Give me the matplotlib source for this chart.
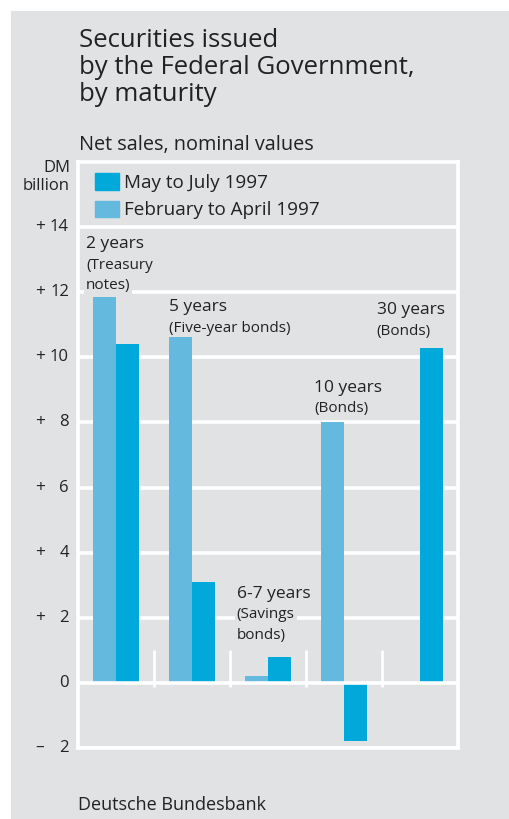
import matplotlib.pyplot as plt
import numpy as np
from matplotlib.patches import Patch

plt.rcParams['font.family'] = ['Open Sans', 'DejaVu Sans']

# data (DM billion, net sales)
maturities = ["2 years", "5 years", "6-7 years", "10 years", "30 years"]
notes = ["(Treasury\nnotes)", "(Five-year bonds)", "(Savings\nbonds)", "(Bonds)", "(Bonds)"]
feb_apr = [11.85, 10.65, 0.2, 8.0, np.nan]
may_jul = [10.4, 3.1, 0.8, -1.8, 10.3]
yticks = [-2, 0, 2, 4, 6, 8, 10, 12, 14]
title_lines = ["Securities issued", "by the Federal Government,", "by maturity"]

# label anchors (x, baseline y) in data units
label_pos = [(0.105, 13.35), (1.197, 11.42), (2.09, 2.62), (3.105, 8.95), (3.93, 11.32)]

dark = '#00a9d9'
light = '#63b9de'
bg = '#e1e2e4'
ink = '#222222'

W, H = 510, 819
fig = plt.figure(figsize=(W / 100, H / 100), dpi=100)
fig.patch.set_facecolor('white')
fig.add_artist(plt.Rectangle((11 / W, 0), 1, 1 - 11 / H, transform=fig.transFigure,
                             facecolor=bg, edgecolor='none', zorder=0))

def fx(px):
    return px / W

def fy(py):
    return 1 - py / H

ax = fig.add_axes([fx(78), fy(748), fx(458) - fx(78), fy(162) - fy(748)])
ax.set_facecolor(bg)
ax.set_xlim(0, 5)
ax.set_ylim(-2, 16)

x = np.arange(len(maturities)) + 0.5
bw = 0.3
ax.bar(x - bw / 2, feb_apr, bw, color=light, zorder=2)
ax.bar(x + bw / 2, may_jul, bw, color=dark, zorder=2)

for y in yticks:
    ax.axhline(y, color='white', lw=2.6, zorder=3 if y == 0 else 1)
ax.vlines(np.arange(1, 5), -0.12, 1.0, color='white', lw=2, zorder=3)

for s in ax.spines.values():
    s.set_color('white')
    s.set_linewidth(2.6)
ax.set_xticks([])
ax.set_yticks([])

# y labels: sign column plus right aligned numbers
trans = ax.get_yaxis_transform()
for y in yticks:
    sign = '+' if y > 0 else ('\u2013' if y < 0 else '')
    ax.text((40 - 78) / 380, y, sign, transform=trans, ha='center', va='center',
            fontsize=12.5, color=ink, clip_on=False)
    ax.text((69 - 78) / 380, y, str(abs(y)), transform=trans, ha='right', va='center',
            fontsize=12, color=ink, clip_on=False)
fig.text(fx(70), fy(177), 'DM\nbillion', ha='right', va='center', fontsize=12,
         color=ink, linespacing=1.1)

# category labels
box = dict(boxstyle='square,pad=0.12', facecolor=bg, edgecolor='none')
for name, note, (lx, ly) in zip(maturities, notes, label_pos):
    ax.text(lx, ly, name, ha='left', va='baseline', fontsize=12.5, color=ink,
            zorder=4, bbox=box)
    for i, line in enumerate(note.split('\n')):
        ax.text(lx, ly - (i + 1) * 0.63, line, ha='left', va='baseline', fontsize=11,
                color=ink, zorder=4, bbox=box)

handles = [Patch(color=dark, label='May to July 1997'),
           Patch(color=light, label='February to April 1997')]
ax.legend(handles=handles, loc='upper left', bbox_to_anchor=(0.0, 1.01), frameon=False,
          fontsize=13.6, handlelength=1.25, handleheight=1.0, handletextpad=0.3,
          labelspacing=0.45, labelcolor=ink)

for i, line in enumerate(title_lines):
    fig.text(fx(79), fy(47 + 27 * i), line, ha='left', va='baseline',
             fontsize=18.5, color=ink)
fig.text(fx(79), fy(150), 'Net sales, nominal values', ha='left', va='baseline',
         fontsize=14.3, color=ink)
fig.text(fx(78), fy(810), 'Deutsche Bundesbank', ha='left', va='baseline',
         fontsize=13, color=ink)

fig.savefig('out.png', dpi=100)
